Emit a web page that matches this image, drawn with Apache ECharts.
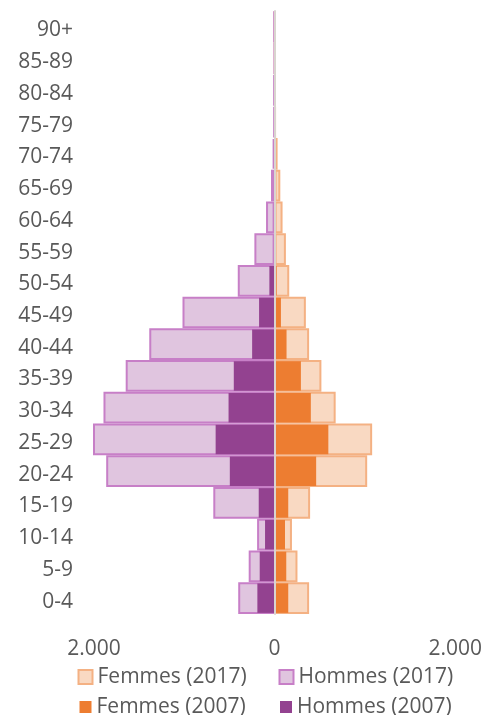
<!DOCTYPE html>
<html>
<head>
<meta charset="utf-8">
<script src="https://cdn.jsdelivr.net/npm/echarts@6/dist/echarts.min.js"></script>
<style>
  html, body { margin: 0; padding: 0; background: #fff; }
  #chart { width: 485px; height: 715px; }
</style>
</head>
<body>
<div id="chart"></div>
<script>
// Age groups, bottom to top
const ageGroups = ['0-4', '5-9', '10-14', '15-19', '20-24', '25-29', '30-34', '35-39', '40-44',
  '45-49', '50-54', '55-59', '60-64', '65-69', '70-74', '75-79', '80-84', '85-89', '90+'];

// Population counts per age group
const femmes2017 = [382, 253, 192, 393, 1025, 1080, 676, 518, 382, 346, 162, 125, 88, 63, 33, 10, 8, 3, 2];
const hommes2017 = [403, 287, 194, 679, 1865, 2020, 1895, 1649, 1388, 1020, 408, 224, 95, 40, 22, 10, 10, 3, 8];
const femmes2007 = [151, 129, 115, 151, 460, 595, 401, 291, 132, 70, 22, 0, 0, 0, 0, 0, 0, 0, 0];
const hommes2007 = [191, 165, 106, 176, 496, 653, 510, 452, 249, 172, 58, 0, 0, 0, 0, 0, 0, 0, 0];

// Axis ticks
const xMin = -2000, xMax = 2000, xStep = 2000;

const textColor = '#595959';
const fontFamily = "'Open Sans', 'Noto Sans', sans-serif";

const colors = {
  f17: { fill: '#F9D9C2', border: '#F4B183' },
  h17: { fill: '#E0C5DF', border: '#C77FC7' },
  f07: '#ED7D31',
  h07: '#934290'
};

function fmtThousands(v) {
  const a = Math.abs(v);
  return String(a).replace(/\B(?=(\d{3})+(?!\d))/g, '.');
}

const chart = echarts.init(document.getElementById('chart'), null, { renderer: 'canvas' });

const legendText = { fontSize: 21, color: textColor, fontFamily: fontFamily };

// one legend entry per block so each swatch sits in its own column
function legendEntry(name, left, top, size, itemStyle) {
  return {
    left: left, top: top, padding: 0, itemGap: 0,
    itemWidth: size, itemHeight: size,
    textStyle: legendText,
    data: [{ name: name, icon: 'rect', itemStyle: itemStyle }]
  };
}

chart.setOption({
  animation: false,
  grid: { left: 94, right: 28, top: 11, bottom: 101 },
  xAxis: {
    type: 'value',
    min: xMin, max: xMax, interval: xStep,
    splitLine: { show: false },
    axisLine: { show: false },
    axisTick: { show: false },
    axisLabel: {
      fontSize: 21, color: textColor, fontFamily: fontFamily, margin: 25,
      formatter: fmtThousands
    }
  },
  yAxis: [
    {
      type: 'category',
      data: ageGroups,
      axisLine: { show: false, onZero: false },
      axisTick: { show: false },
      axisLabel: {
        fontSize: 21, color: textColor, fontFamily: fontFamily, margin: 21,
        formatter: v => '{a|' + v + '}',
        rich: { a: { fontSize: 21, color: textColor, fontFamily: fontFamily, padding: [7, 0, 0, 0] } }
      }
    },
    {
      // zero line drawn over the bars
      type: 'category',
      data: ageGroups,
      position: 'left',
      z: 10,
      axisLine: { show: true, onZero: true, lineStyle: { color: '#D9D4CF', width: 2 } },
      axisTick: { show: false },
      axisLabel: { show: false }
    }
  ],
  legend: [
    legendEntry('Femmes (2017)', 77.5, 666.5, 14,
      { color: colors.f17.fill, borderColor: colors.f17.border, borderWidth: 2 }),
    legendEntry('Hommes (2017)', 278.5, 666.5, 14,
      { color: colors.h17.fill, borderColor: colors.h17.border, borderWidth: 2 }),
    legendEntry('Femmes (2007)', 79.5, 696.5, 12, { color: colors.f07, borderWidth: 0 }),
    legendEntry('Hommes (2007)', 280, 696.5, 12, { color: colors.h07, borderWidth: 0 })
  ],
  series: [
    {
      name: 'Femmes (2017)', type: 'bar', yAxisIndex: 0,
      barCategoryGap: '0%', barGap: '-100%',
      itemStyle: { color: colors.f17.fill, borderColor: colors.f17.border, borderWidth: 2 },
      data: femmes2017
    },
    {
      name: 'Hommes (2017)', type: 'bar', yAxisIndex: 0,
      barCategoryGap: '0%', barGap: '-100%',
      itemStyle: { color: colors.h17.fill, borderColor: colors.h17.border, borderWidth: 2 },
      data: hommes2017.map(v => -v)
    },
    {
      name: 'Femmes (2007)', type: 'bar', yAxisIndex: 1,
      barWidth: '93%', barGap: '-100%',
      itemStyle: { color: colors.f07 },
      data: femmes2007
    },
    {
      name: 'Hommes (2007)', type: 'bar', yAxisIndex: 1,
      barWidth: '93%', barGap: '-100%',
      itemStyle: { color: colors.h07 },
      data: hommes2007.map(v => -v)
    }
  ]
});
</script>
</body>
</html>
